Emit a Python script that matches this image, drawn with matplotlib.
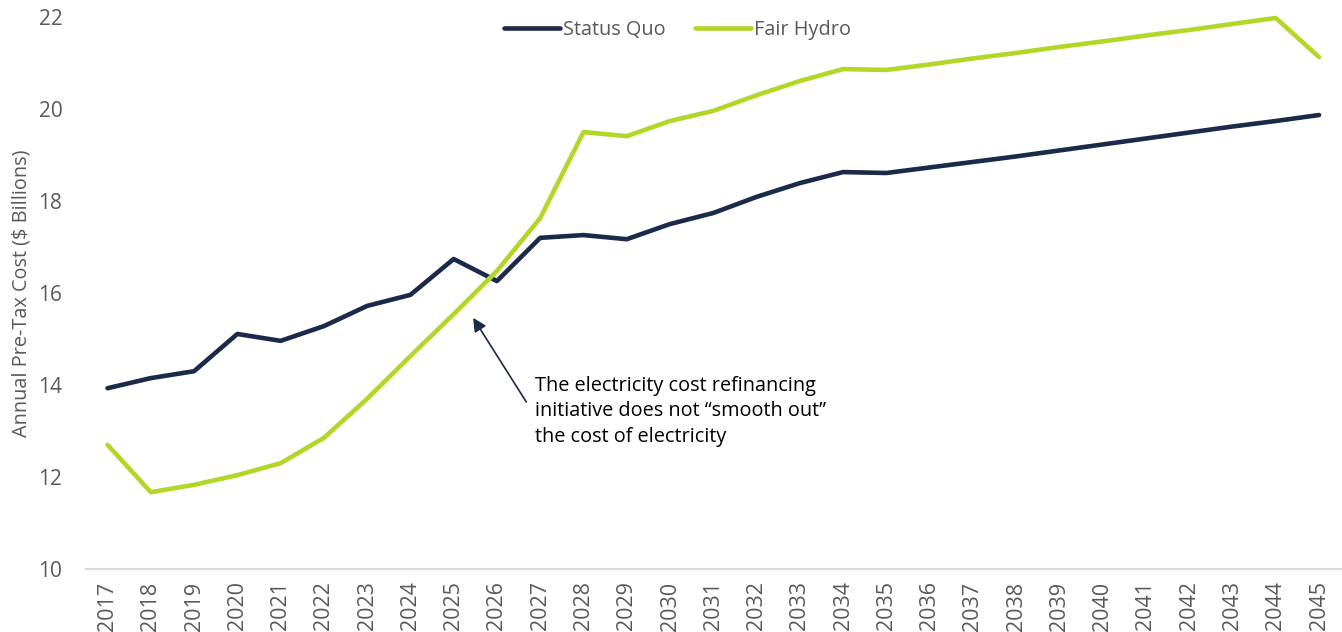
import matplotlib
matplotlib.use("Agg")
import matplotlib.pyplot as plt
from matplotlib import font_manager

years = [str(y) for y in range(2017, 2046)]
status_quo = [13.93, 14.15, 14.30, 15.11, 14.96, 15.28, 15.72, 15.96, 16.74, 16.26,
              17.20, 17.26, 17.17, 17.50, 17.74, 18.09, 18.39, 18.63, 18.61, 18.73,
              18.85, 18.97, 19.10, 19.23, 19.36, 19.49, 19.62, 19.74, 19.87]
fair_hydro = [12.70, 11.67, 11.83, 12.04, 12.30, 12.85, 13.70, 14.63, 15.54, 16.48,
              17.63, 19.50, 19.41, 19.74, 19.96, 20.30, 20.61, 20.87, 20.85, 20.97,
              21.10, 21.22, 21.35, 21.47, 21.60, 21.72, 21.85, 21.98, 21.13]
yticks = [10, 12, 14, 16, 18, 20, 22]

plt.rcParams['font.family'] = ['Open Sans', 'DejaVu Sans']

names = {f.name for f in font_manager.fontManager.ttflist}
narrow = 'Liberation Sans Narrow' if 'Liberation Sans Narrow' in names else 'Open Sans'

navy = '#1B2A48'
lime = '#B3D727'
grey = '#595959'

fig = plt.figure(figsize=(13.42, 6.32), dpi=100)
ax = fig.add_axes([0.064, 0.0997, 0.935, 0.8733])

x = list(range(len(years)))
ax.plot(x, status_quo, color=navy, lw=3.3, label='Status Quo', solid_capstyle='round',
        solid_joinstyle='round', clip_on=False)
ax.plot(x, fair_hydro, color=lime, lw=3.3, label='Fair Hydro', solid_capstyle='round',
        solid_joinstyle='round', clip_on=False)

ax.set_xlim(-0.5, len(years) - 0.5)
ax.set_ylim(10, 22)
ax.set_yticks(yticks)
ax.set_yticklabels([str(t) for t in yticks], fontsize=15, color=grey)
ax.set_xticks(x)
ax.set_xticklabels(years, rotation=90, fontsize=15.5, color=grey, family=narrow)
ax.tick_params(axis='both', length=0)
ax.tick_params(axis='y', pad=17)
ax.tick_params(axis='x', pad=9)

for s in ['top', 'right', 'left']:
    ax.spines[s].set_visible(False)
ax.spines['bottom'].set_color('#D9D9D9')
ax.spines['bottom'].set_linewidth(1.5)

ax.set_ylabel('Annual Pre-Tax Cost ($ Billions)', color=grey, fontsize=14.3)
ax.yaxis.set_label_coords(-0.043, 0.5)

leg = fig.legend(loc='center', bbox_to_anchor=(0.505, 0.953), ncol=2, frameon=False,
                 fontsize=14.3, handlelength=2.8, handletextpad=0.15, columnspacing=1.5)
for t in leg.get_texts():
    t.set_color(grey)

ax.annotate('', xy=(8.45, 15.46), xytext=(9.68, 13.63),
            arrowprops=dict(arrowstyle='-|>', color=navy, lw=1.2, mutation_scale=20,
                            shrinkA=0, shrinkB=0))
ax.text(9.88, 13.43, 'The electricity cost refinancing\ninitiative does not \u201csmooth out\u201d\nthe cost of electricity',
        fontsize=14.3, color='black', ha='left', va='center', linespacing=1.38)

fig.savefig('out.png', dpi=100)
